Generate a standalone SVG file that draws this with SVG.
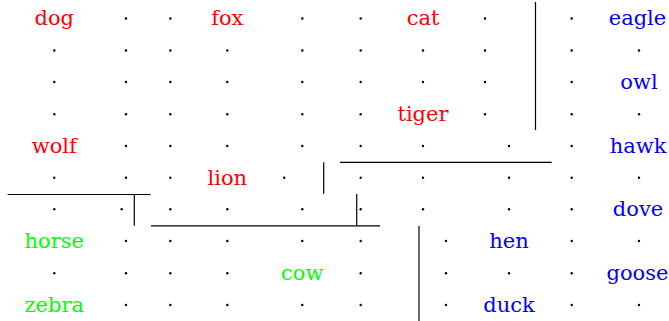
<svg xmlns="http://www.w3.org/2000/svg" width="669" height="321" viewBox="0 0 669 321">
  <style>
    .lbl { font-family: "DejaVu Serif", "Liberation Serif", serif; font-size: 21px; text-anchor: middle; }
    .r { fill: #ff0000; }
    .b { fill: #0000ff; }
    .g { fill: #00ff00; }
    .walls line { stroke: #000; stroke-width: 1.2; }
  </style>
  <defs>
    <circle id="d" r="1.2" fill="#000"/>
  </defs>
  <rect width="669" height="321" fill="#fff"/>

  <!-- grid points -->
  <g class="dots">
    <!-- row 1 -->
    <use href="#d" x="126" y="18.5"/><use href="#d" x="170.3" y="18.5"/><use href="#d" x="302.3" y="18.5"/><use href="#d" x="360.7" y="18.5"/><use href="#d" x="485" y="18.5"/><use href="#d" x="571.7" y="18.5"/>
    <!-- row 2 -->
    <use href="#d" x="54.3" y="50.5"/><use href="#d" x="126" y="50.5"/><use href="#d" x="170.3" y="50.5"/><use href="#d" x="227.3" y="50.5"/><use href="#d" x="302.3" y="50.5"/><use href="#d" x="360.7" y="50.5"/><use href="#d" x="423" y="50.5"/><use href="#d" x="485" y="50.5"/><use href="#d" x="571.7" y="50.5"/><use href="#d" x="639" y="50.5"/>
    <!-- row 3 -->
    <use href="#d" x="54.3" y="82"/><use href="#d" x="126" y="82"/><use href="#d" x="170.3" y="82"/><use href="#d" x="227.3" y="82"/><use href="#d" x="302.3" y="82"/><use href="#d" x="360.7" y="82"/><use href="#d" x="423" y="82"/><use href="#d" x="485" y="82"/><use href="#d" x="571.7" y="82"/>
    <!-- row 4 -->
    <use href="#d" x="54.3" y="114.3"/><use href="#d" x="126" y="114.3"/><use href="#d" x="170.3" y="114.3"/><use href="#d" x="227.3" y="114.3"/><use href="#d" x="302.3" y="114.3"/><use href="#d" x="360.7" y="114.3"/><use href="#d" x="485" y="114.3"/><use href="#d" x="571.7" y="114.3"/><use href="#d" x="639" y="114.3"/>
    <!-- row 5 -->
    <use href="#d" x="126" y="146"/><use href="#d" x="170.3" y="146"/><use href="#d" x="227.3" y="146"/><use href="#d" x="302.3" y="146"/><use href="#d" x="360.7" y="146"/><use href="#d" x="423" y="146"/><use href="#d" x="509" y="146"/><use href="#d" x="571.7" y="146"/>
    <!-- row 6 -->
    <use href="#d" x="54.3" y="177.7"/><use href="#d" x="126" y="177.7"/><use href="#d" x="170.3" y="177.7"/><use href="#d" x="284.3" y="177.7"/><use href="#d" x="360.7" y="177.7"/><use href="#d" x="423" y="177.7"/><use href="#d" x="509" y="177.7"/><use href="#d" x="571.7" y="177.7"/><use href="#d" x="639" y="177.7"/>
    <!-- row 7 -->
    <use href="#d" x="54.3" y="209.3"/><use href="#d" x="121.7" y="209.3"/><use href="#d" x="170.3" y="209.3"/><use href="#d" x="227.3" y="209.3"/><use href="#d" x="302.3" y="209.3"/><use href="#d" x="360.7" y="209.3"/><use href="#d" x="423" y="209.3"/><use href="#d" x="509" y="209.3"/><use href="#d" x="571.7" y="209.3"/>
    <!-- row 8 -->
    <use href="#d" x="126" y="241"/><use href="#d" x="170.3" y="241"/><use href="#d" x="227.3" y="241"/><use href="#d" x="302.3" y="241"/><use href="#d" x="360.7" y="241"/><use href="#d" x="446" y="241"/><use href="#d" x="571.7" y="241"/><use href="#d" x="639" y="241"/>
    <!-- row 9 -->
    <use href="#d" x="54.3" y="273.3"/><use href="#d" x="126" y="273.3"/><use href="#d" x="170.3" y="273.3"/><use href="#d" x="227.3" y="273.3"/><use href="#d" x="360.7" y="273.3"/><use href="#d" x="446" y="273.3"/><use href="#d" x="509" y="273.3"/><use href="#d" x="571.7" y="273.3"/>
    <!-- row 10 -->
    <use href="#d" x="126" y="305"/><use href="#d" x="170.3" y="305"/><use href="#d" x="227.3" y="305"/><use href="#d" x="302.3" y="305"/><use href="#d" x="360.7" y="305"/><use href="#d" x="446" y="305"/><use href="#d" x="571.7" y="305"/><use href="#d" x="639" y="305"/>
  </g>

  <!-- wall segments -->
  <g id="connectors" class="walls">
    <line x1="535.5" y1="2" x2="535.5" y2="130"/>
    <line x1="340" y1="162.3" x2="551.7" y2="162.3"/>
    <line x1="323.7" y1="162.3" x2="323.7" y2="193.7"/>
    <line x1="7.7" y1="194.5" x2="150.7" y2="194.5"/>
    <line x1="134.3" y1="194.5" x2="134.3" y2="225.7"/>
    <line x1="151" y1="225.9" x2="380" y2="225.9"/>
    <line x1="356.7" y1="194" x2="356.7" y2="225.9"/>
    <line x1="419" y1="226" x2="419" y2="321"/>
  </g>

  <!-- labelled cells -->
  <g id="dog"><text class="lbl r" x="54.3" y="25.3">dog</text></g>
  <g id="fox"><text class="lbl r" x="227.3" y="25.3">fox</text></g>
  <g id="cat"><text class="lbl r" x="423" y="25.3">cat</text></g>
  <g id="eagle"><text class="lbl b" x="637.5" y="25.3">eagle</text></g>
  <g id="owl"><text class="lbl b" x="639" y="88.8">owl</text></g>
  <g id="tiger"><text class="lbl r" x="423" y="121.1">tiger</text></g>
  <g id="wolf"><text class="lbl r" x="54.3" y="152.8">wolf</text></g>
  <g id="hawk"><text class="lbl b" x="638" y="152.8">hawk</text></g>
  <g id="lion"><text class="lbl r" x="227.3" y="184.5">lion</text></g>
  <g id="dove"><text class="lbl b" x="638" y="216.1">dove</text></g>
  <g id="horse"><text class="lbl g" x="54.3" y="247.8">horse</text></g>
  <g id="hen"><text class="lbl b" x="509" y="247.8">hen</text></g>
  <g id="cow"><text class="lbl g" x="302.3" y="280.1">cow</text></g>
  <g id="goose"><text class="lbl b" x="637.5" y="280.1">goose</text></g>
  <g id="zebra"><text class="lbl g" x="54.3" y="311.8">zebra</text></g>
  <g id="duck"><text class="lbl b" x="509" y="311.8">duck</text></g>
</svg>
